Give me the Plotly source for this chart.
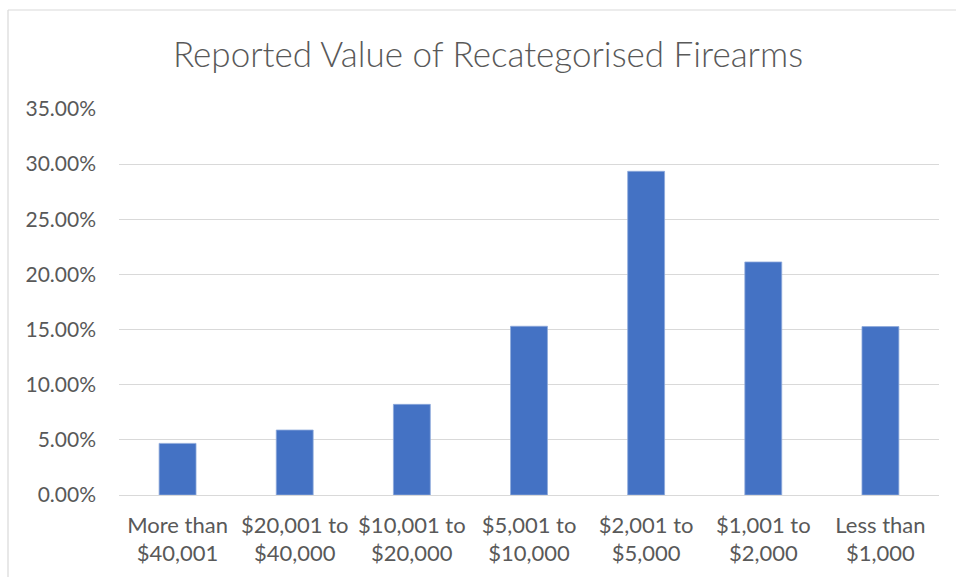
import plotly.graph_objects as go

categories = [
    "More than<br>$40,001",
    "$20,001 to<br>$40,000",
    "$10,001 to<br>$20,000",
    "$5,001 to<br>$10,000",
    "$2,001 to<br>$5,000",
    "$1,001 to<br>$2,000",
    "Less than<br>$1,000",
]
shares = [0.0468, 0.0589, 0.0822, 0.1530, 0.2935, 0.2113, 0.1527]
y_ticks = [0, 0.05, 0.10, 0.15, 0.20, 0.25, 0.30, 0.35]

W, H = 956, 577
L, R, T, B = 119, 17, 109, 82
pw, ph = W - L - R, H - T - B
FONT = "Lato, Open Sans, sans-serif"


def px_x(x):
    return (x - L) / pw


def px_y(y):
    return (H - B - y) / ph


fig = go.Figure(go.Bar(
    x=categories, y=shares,
    marker=dict(color="#4472C4", line=dict(color="#8EA9DB", width=0.8)),
    hoverinfo="x+y",
))

fig.update_layout(
    width=W, height=H,
    margin=dict(l=L, r=R, t=T, b=B),
    paper_bgcolor="white", plot_bgcolor="white",
    font=dict(family=FONT, color="#595959", size=21),
    title=dict(
        text="Reported Value of Recategorised Firearms",
        x=px_x(488), xref="paper", xanchor="center",
        y=1 - 55 / H, yanchor="middle",
        font=dict(size=35, color="#595959", family=FONT, weight=300),
    ),
    bargap=0.685,
    showlegend=False,
    shapes=[
        dict(type="line", xref="paper", yref="paper",
             x0=px_x(8), x1=px_x(8), y0=px_y(10), y1=px_y(600),
             line=dict(color="#D9D9D9", width=1.2)),
        dict(type="line", xref="paper", yref="paper",
             x0=px_x(8), x1=px_x(960), y0=px_y(10), y1=px_y(10),
             line=dict(color="#D9D9D9", width=1.2)),
    ],
)

fig.update_yaxes(
    range=[0, 0.35], tickvals=y_ticks, tickformat=".2%",
    showgrid=True, gridcolor="#D9D9D9", gridwidth=1.3,
    zeroline=False, showline=False, ticks="", ticklabelstandoff=22,
)
fig.update_xaxes(
    showgrid=False, showline=True, linecolor="#D9D9D9", linewidth=1.3,
    ticks="", ticklabelstandoff=10, tickfont=dict(size=22),
)

# the page body has an 8px default margin; drop it so the figure sits at 0,0
fig.write_html("out.html", config={"displayModeBar": False},
               post_script="document.body.style.margin='0';")
